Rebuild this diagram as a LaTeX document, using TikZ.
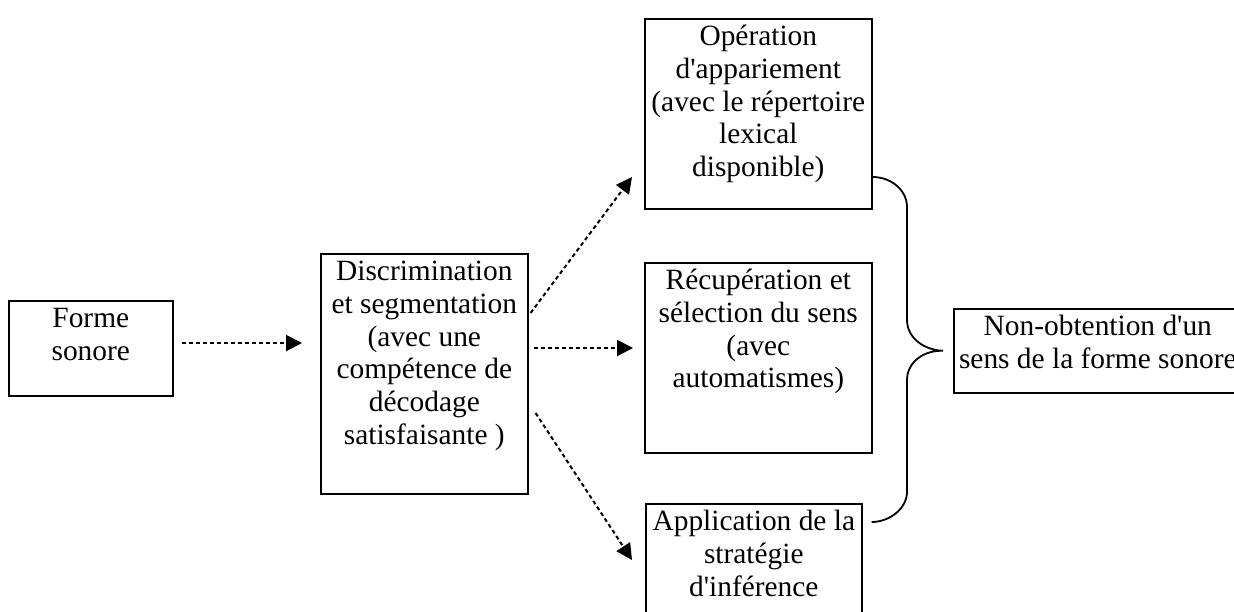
\documentclass[tikz,border=0pt]{standalone}
\usepackage{fontspec}
\setmainfont{Liberation Serif}
\usetikzlibrary{arrows.meta}

\newcommand{\boite}[3]{\parbox[t][#2][t]{#1}{\centering\rule{0pt}{13.5pt}#3}}
\newcommand{\apos}{\textquotesingle}

\tikzset{
  fleche/.style={line width=1pt,dash pattern=on 2pt off 1.5pt,-{Triangle[length=8pt,width=8pt]}},
  accolade/.style={line width=0.9pt}
}

\begin{document}
\begin{tikzpicture}[x=0.5pt,y=-0.5pt]

      \useasboundingbox (0,0) rectangle (1234,611);

      \begin{scope}[every node/.style={draw,line width=0.8pt,inner sep=0pt,anchor=north west,font=\fontsize{14.7pt}{16.35pt}\selectfont}]
        \node (forme)       at (8,300)   {\boite{82pt}{47.5pt}{Forme\\sonore}};
        \node (discrim)     at (320,253) {\boite{103.5pt}{120pt}{Discrimination\\et segmentation\\(avec une\\compétence de\\décodage\\satisfaisante )}};
        \node (operation)   at (644,18)  {\boite{113.5pt}{95pt}{Opération\\d\apos appariement\\(avec le répertoire\\lexical\\disponible)}};
        \node (recup)       at (644,262) {\boite{113.5pt}{95pt}{Récupération et\\sélection du sens\\(avec\\automatismes)}};
        \node (application) at (645,503) {\boite{108pt}{70pt}{Application de la\\stratégie\\d\apos inférence}};
        \node (nonobt)      at (953,308) {\boite{144pt}{42pt}{Non-obtention d\apos un\\sens de la forme sonore}};
      \end{scope}

      \coordinate (pointe) at ([shift={(-10,0)}]nonobt.west);

      \begin{scope}[every path/.style={fleche}]
        \draw ([shift={(8,43)}]forme.north east)   -- ([shift={(-18,90)}]discrim.north west);
        \draw ([shift={(5,95)}]discrim.north east)  -- ([shift={(-11,86)}]recup.north west);
        \draw ([shift={(2,60)}]discrim.north east)  -- ([shift={(-12,159)}]operation.north west);
        \draw ([shift={(7,160)}]discrim.north east) -- ([shift={(-13,57)}]application.north west);
      \end{scope}

      \draw[accolade] ([shift={(0,159)}]operation.north east) .. controls (891,177) and (907,190) .. (907,207)
        -- (907,320) .. controls (907,338) and (924,350) .. (pointe)
        .. controls (924,350) and (907,362) .. (907,380)
        -- (907,492) .. controls (907,508) and (890,522) .. ([shift={(9,19)}]application.north east);

    \end{tikzpicture}
\end{document}
